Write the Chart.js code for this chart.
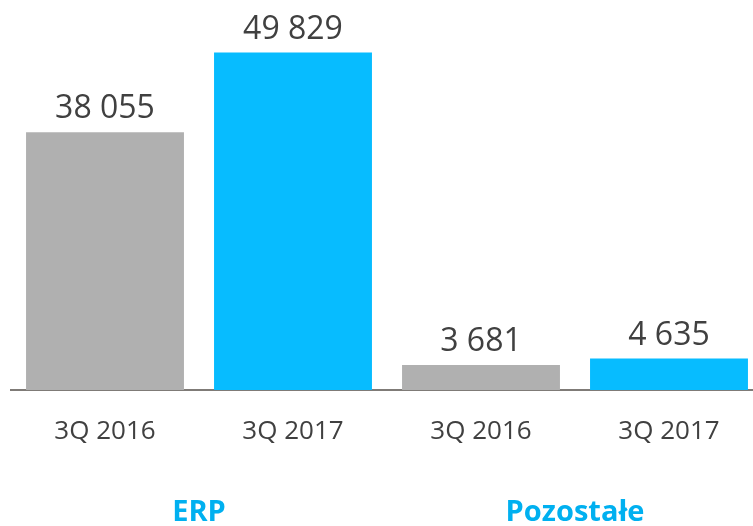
<!DOCTYPE html>
<html>
<head>
<meta charset="utf-8">
<script src="https://cdn.jsdelivr.net/npm/chart.js@4/dist/chart.umd.min.js"></script>
<style>
  html, body { margin: 0; padding: 0; background: #fff; overflow: hidden; }
  #wrap { width: 753px; height: 526px; overflow: hidden; }
</style>
</head>
<body>
<div id="wrap"><canvas id="sales-chart" width="765" height="552"></canvas></div>
<script>
// Data
const periods = ['3Q 2016', '3Q 2017', '3Q 2016', '3Q 2017'];
const groups = ['ERP', 'Pozostałe'];
const values = [38055, 49829, 3681, 4635];
const barColors = ['#b0b0b0', '#07bcff', '#b0b0b0', '#07bcff'];

// Format numbers with a space as thousands separator
function fmt(v) {
  return String(v).replace(/\B(?=(\d{3})+(?!\d))/g, ' ');
}

// Draw value labels above bars
const valueLabels = {
  id: 'valueLabels',
  afterDatasetsDraw(chart) {
    const ctx = chart.ctx;
    const meta = chart.getDatasetMeta(0);
    ctx.save();
    ctx.font = '32px "Open Sans", sans-serif';
    ctx.fillStyle = '#404040';
    ctx.textAlign = 'center';
    ctx.textBaseline = 'alphabetic';
    meta.data.forEach((bar, i) => {
      ctx.fillText(fmt(values[i]), bar.x, bar.y - 14);
    });
    ctx.restore();
  }
};

const ctx = document.getElementById('sales-chart').getContext('2d');

const salesChart = new Chart(ctx, {
  type: 'bar',
  data: {
    labels: periods,
    datasets: [{
      data: values,
      backgroundColor: barColors,
      borderWidth: 0,
      categoryPercentage: 1,
      barPercentage: 0.84
    }]
  },
  options: {
    responsive: false,
    animation: false,
    layout: { padding: { left: 11, right: 2, top: 0, bottom: 0 } },
    plugins: {
      legend: { display: false },
      tooltip: { enabled: false }
    },
    scales: {
      x: {
        position: 'bottom',
        grid: { display: false, drawTicks: false },
        border: { display: true, color: '#7f7b77', width: 2 },
        ticks: {
          padding: 26,
          color: '#404040',
          font: { size: 26, family: '"Open Sans", sans-serif' }
        }
      },
      x2: {
        type: 'category',
        labels: groups,
        position: 'bottom',
        offset: true,
        grid: { display: false, drawTicks: false },
        border: { display: false },
        ticks: {
          padding: 22,
          color: '#00b0f0',
          font: { size: 29, weight: 'bold', family: '"Open Sans", sans-serif' }
        }
      },
      y: {
        display: false,
        beginAtZero: true,
        min: 0,
        max: 57600
      }
    }
  },
  plugins: [valueLabels]
});
</script>
</body>
</html>
